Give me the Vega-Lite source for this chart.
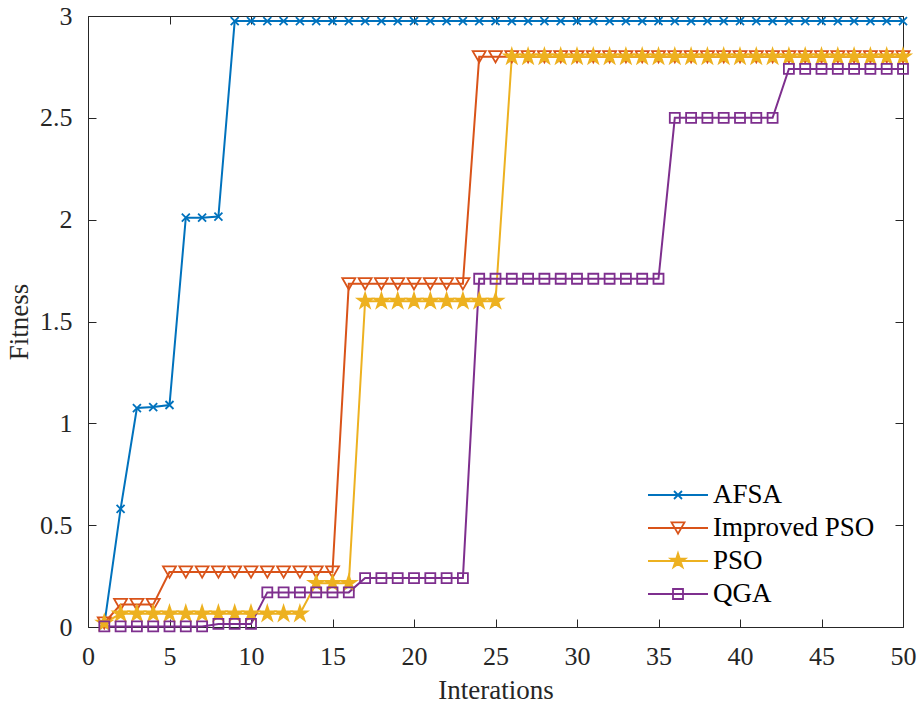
{
  "$schema": "https://vega.github.io/schema/vega-lite/v6.json",
  "width": 815,
  "height": 611,
  "autosize": "none",
  "padding": {"left": 88, "top": 16, "right": 15, "bottom": 79},
  "background": "white",
  "config": {
    "view": {"stroke": null},
    "axis": {
      "grid": false,
      "domainColor": "#262626",
      "domainWidth": 1,
      "tickColor": "#262626",
      "tickWidth": 1,
      "tickSize": -8,
      "labelFont": "Liberation Serif",
      "labelFontSize": 26,
      "labelColor": "#262626",
      "titleFont": "Liberation Serif",
      "titleFontSize": 27,
      "titleFontWeight": "normal",
      "titleColor": "#262626"
    },
    "legend": {
      "labelFont": "Liberation Serif",
      "labelFontSize": 27,
      "labelColor": "#000000",
      "labelLimit": 400,
      "padding": 0,
      "rowPadding": 5
    }
  },
  "data": {
    "values": [
      {"series": "AFSA", "iter": 1, "fitness": 0.01}, {"series": "AFSA", "iter": 2, "fitness": 0.58}, {"series": "AFSA", "iter": 3, "fitness": 1.075}, {"series": "AFSA", "iter": 4, "fitness": 1.08}, {"series": "AFSA", "iter": 5, "fitness": 1.09},
      {"series": "AFSA", "iter": 6, "fitness": 2.01}, {"series": "AFSA", "iter": 7, "fitness": 2.01}, {"series": "AFSA", "iter": 8, "fitness": 2.015}, {"series": "AFSA", "iter": 9, "fitness": 2.975}, {"series": "AFSA", "iter": 10, "fitness": 2.975},
      {"series": "AFSA", "iter": 11, "fitness": 2.975}, {"series": "AFSA", "iter": 12, "fitness": 2.975}, {"series": "AFSA", "iter": 13, "fitness": 2.975}, {"series": "AFSA", "iter": 14, "fitness": 2.975}, {"series": "AFSA", "iter": 15, "fitness": 2.975},
      {"series": "AFSA", "iter": 16, "fitness": 2.975}, {"series": "AFSA", "iter": 17, "fitness": 2.975}, {"series": "AFSA", "iter": 18, "fitness": 2.975}, {"series": "AFSA", "iter": 19, "fitness": 2.975}, {"series": "AFSA", "iter": 20, "fitness": 2.975},
      {"series": "AFSA", "iter": 21, "fitness": 2.975}, {"series": "AFSA", "iter": 22, "fitness": 2.975}, {"series": "AFSA", "iter": 23, "fitness": 2.975}, {"series": "AFSA", "iter": 24, "fitness": 2.975}, {"series": "AFSA", "iter": 25, "fitness": 2.975},
      {"series": "AFSA", "iter": 26, "fitness": 2.975}, {"series": "AFSA", "iter": 27, "fitness": 2.975}, {"series": "AFSA", "iter": 28, "fitness": 2.975}, {"series": "AFSA", "iter": 29, "fitness": 2.975}, {"series": "AFSA", "iter": 30, "fitness": 2.975},
      {"series": "AFSA", "iter": 31, "fitness": 2.975}, {"series": "AFSA", "iter": 32, "fitness": 2.975}, {"series": "AFSA", "iter": 33, "fitness": 2.975}, {"series": "AFSA", "iter": 34, "fitness": 2.975}, {"series": "AFSA", "iter": 35, "fitness": 2.975},
      {"series": "AFSA", "iter": 36, "fitness": 2.975}, {"series": "AFSA", "iter": 37, "fitness": 2.975}, {"series": "AFSA", "iter": 38, "fitness": 2.975}, {"series": "AFSA", "iter": 39, "fitness": 2.975}, {"series": "AFSA", "iter": 40, "fitness": 2.975},
      {"series": "AFSA", "iter": 41, "fitness": 2.975}, {"series": "AFSA", "iter": 42, "fitness": 2.975}, {"series": "AFSA", "iter": 43, "fitness": 2.975}, {"series": "AFSA", "iter": 44, "fitness": 2.975}, {"series": "AFSA", "iter": 45, "fitness": 2.975},
      {"series": "AFSA", "iter": 46, "fitness": 2.975}, {"series": "AFSA", "iter": 47, "fitness": 2.975}, {"series": "AFSA", "iter": 48, "fitness": 2.975}, {"series": "AFSA", "iter": 49, "fitness": 2.975}, {"series": "AFSA", "iter": 50, "fitness": 2.975},
      {"series": "Improved PSO", "iter": 1, "fitness": 0.02}, {"series": "Improved PSO", "iter": 2, "fitness": 0.11}, {"series": "Improved PSO", "iter": 3, "fitness": 0.11}, {"series": "Improved PSO", "iter": 4, "fitness": 0.11}, {"series": "Improved PSO", "iter": 5, "fitness": 0.27},
      {"series": "Improved PSO", "iter": 6, "fitness": 0.27}, {"series": "Improved PSO", "iter": 7, "fitness": 0.27}, {"series": "Improved PSO", "iter": 8, "fitness": 0.27}, {"series": "Improved PSO", "iter": 9, "fitness": 0.27}, {"series": "Improved PSO", "iter": 10, "fitness": 0.27},
      {"series": "Improved PSO", "iter": 11, "fitness": 0.27}, {"series": "Improved PSO", "iter": 12, "fitness": 0.27}, {"series": "Improved PSO", "iter": 13, "fitness": 0.27}, {"series": "Improved PSO", "iter": 14, "fitness": 0.27}, {"series": "Improved PSO", "iter": 15, "fitness": 0.27},
      {"series": "Improved PSO", "iter": 16, "fitness": 1.685}, {"series": "Improved PSO", "iter": 17, "fitness": 1.685}, {"series": "Improved PSO", "iter": 18, "fitness": 1.685}, {"series": "Improved PSO", "iter": 19, "fitness": 1.685}, {"series": "Improved PSO", "iter": 20, "fitness": 1.685},
      {"series": "Improved PSO", "iter": 21, "fitness": 1.685}, {"series": "Improved PSO", "iter": 22, "fitness": 1.685}, {"series": "Improved PSO", "iter": 23, "fitness": 1.685}, {"series": "Improved PSO", "iter": 24, "fitness": 2.8}, {"series": "Improved PSO", "iter": 25, "fitness": 2.8},
      {"series": "Improved PSO", "iter": 26, "fitness": 2.8}, {"series": "Improved PSO", "iter": 27, "fitness": 2.8}, {"series": "Improved PSO", "iter": 28, "fitness": 2.8}, {"series": "Improved PSO", "iter": 29, "fitness": 2.8}, {"series": "Improved PSO", "iter": 30, "fitness": 2.8},
      {"series": "Improved PSO", "iter": 31, "fitness": 2.8}, {"series": "Improved PSO", "iter": 32, "fitness": 2.8}, {"series": "Improved PSO", "iter": 33, "fitness": 2.8}, {"series": "Improved PSO", "iter": 34, "fitness": 2.8}, {"series": "Improved PSO", "iter": 35, "fitness": 2.8},
      {"series": "Improved PSO", "iter": 36, "fitness": 2.8}, {"series": "Improved PSO", "iter": 37, "fitness": 2.8}, {"series": "Improved PSO", "iter": 38, "fitness": 2.8}, {"series": "Improved PSO", "iter": 39, "fitness": 2.8}, {"series": "Improved PSO", "iter": 40, "fitness": 2.8},
      {"series": "Improved PSO", "iter": 41, "fitness": 2.8}, {"series": "Improved PSO", "iter": 42, "fitness": 2.8}, {"series": "Improved PSO", "iter": 43, "fitness": 2.8}, {"series": "Improved PSO", "iter": 44, "fitness": 2.8}, {"series": "Improved PSO", "iter": 45, "fitness": 2.8},
      {"series": "Improved PSO", "iter": 46, "fitness": 2.8}, {"series": "Improved PSO", "iter": 47, "fitness": 2.8}, {"series": "Improved PSO", "iter": 48, "fitness": 2.8}, {"series": "Improved PSO", "iter": 49, "fitness": 2.8}, {"series": "Improved PSO", "iter": 50, "fitness": 2.8},
      {"series": "PSO", "iter": 1, "fitness": 0.02}, {"series": "PSO", "iter": 2, "fitness": 0.065}, {"series": "PSO", "iter": 3, "fitness": 0.065}, {"series": "PSO", "iter": 4, "fitness": 0.065}, {"series": "PSO", "iter": 5, "fitness": 0.065},
      {"series": "PSO", "iter": 6, "fitness": 0.065}, {"series": "PSO", "iter": 7, "fitness": 0.065}, {"series": "PSO", "iter": 8, "fitness": 0.065}, {"series": "PSO", "iter": 9, "fitness": 0.065}, {"series": "PSO", "iter": 10, "fitness": 0.065},
      {"series": "PSO", "iter": 11, "fitness": 0.065}, {"series": "PSO", "iter": 12, "fitness": 0.065}, {"series": "PSO", "iter": 13, "fitness": 0.065}, {"series": "PSO", "iter": 14, "fitness": 0.215}, {"series": "PSO", "iter": 15, "fitness": 0.215},
      {"series": "PSO", "iter": 16, "fitness": 0.215}, {"series": "PSO", "iter": 17, "fitness": 1.6}, {"series": "PSO", "iter": 18, "fitness": 1.6}, {"series": "PSO", "iter": 19, "fitness": 1.6}, {"series": "PSO", "iter": 20, "fitness": 1.6},
      {"series": "PSO", "iter": 21, "fitness": 1.6}, {"series": "PSO", "iter": 22, "fitness": 1.6}, {"series": "PSO", "iter": 23, "fitness": 1.6}, {"series": "PSO", "iter": 24, "fitness": 1.6}, {"series": "PSO", "iter": 25, "fitness": 1.6},
      {"series": "PSO", "iter": 26, "fitness": 2.8}, {"series": "PSO", "iter": 27, "fitness": 2.8}, {"series": "PSO", "iter": 28, "fitness": 2.8}, {"series": "PSO", "iter": 29, "fitness": 2.8}, {"series": "PSO", "iter": 30, "fitness": 2.8},
      {"series": "PSO", "iter": 31, "fitness": 2.8}, {"series": "PSO", "iter": 32, "fitness": 2.8}, {"series": "PSO", "iter": 33, "fitness": 2.8}, {"series": "PSO", "iter": 34, "fitness": 2.8}, {"series": "PSO", "iter": 35, "fitness": 2.8},
      {"series": "PSO", "iter": 36, "fitness": 2.8}, {"series": "PSO", "iter": 37, "fitness": 2.8}, {"series": "PSO", "iter": 38, "fitness": 2.8}, {"series": "PSO", "iter": 39, "fitness": 2.8}, {"series": "PSO", "iter": 40, "fitness": 2.8},
      {"series": "PSO", "iter": 41, "fitness": 2.8}, {"series": "PSO", "iter": 42, "fitness": 2.8}, {"series": "PSO", "iter": 43, "fitness": 2.8}, {"series": "PSO", "iter": 44, "fitness": 2.8}, {"series": "PSO", "iter": 45, "fitness": 2.8},
      {"series": "PSO", "iter": 46, "fitness": 2.8}, {"series": "PSO", "iter": 47, "fitness": 2.8}, {"series": "PSO", "iter": 48, "fitness": 2.8}, {"series": "PSO", "iter": 49, "fitness": 2.8}, {"series": "PSO", "iter": 50, "fitness": 2.8},
      {"series": "QGA", "iter": 1, "fitness": 0.003}, {"series": "QGA", "iter": 2, "fitness": 0.003}, {"series": "QGA", "iter": 3, "fitness": 0.003}, {"series": "QGA", "iter": 4, "fitness": 0.003}, {"series": "QGA", "iter": 5, "fitness": 0.003},
      {"series": "QGA", "iter": 6, "fitness": 0.003}, {"series": "QGA", "iter": 7, "fitness": 0.003}, {"series": "QGA", "iter": 8, "fitness": 0.015}, {"series": "QGA", "iter": 9, "fitness": 0.015}, {"series": "QGA", "iter": 10, "fitness": 0.015},
      {"series": "QGA", "iter": 11, "fitness": 0.17}, {"series": "QGA", "iter": 12, "fitness": 0.17}, {"series": "QGA", "iter": 13, "fitness": 0.17}, {"series": "QGA", "iter": 14, "fitness": 0.17}, {"series": "QGA", "iter": 15, "fitness": 0.17},
      {"series": "QGA", "iter": 16, "fitness": 0.17}, {"series": "QGA", "iter": 17, "fitness": 0.24}, {"series": "QGA", "iter": 18, "fitness": 0.24}, {"series": "QGA", "iter": 19, "fitness": 0.24}, {"series": "QGA", "iter": 20, "fitness": 0.24},
      {"series": "QGA", "iter": 21, "fitness": 0.24}, {"series": "QGA", "iter": 22, "fitness": 0.24}, {"series": "QGA", "iter": 23, "fitness": 0.24}, {"series": "QGA", "iter": 24, "fitness": 1.71}, {"series": "QGA", "iter": 25, "fitness": 1.71},
      {"series": "QGA", "iter": 26, "fitness": 1.71}, {"series": "QGA", "iter": 27, "fitness": 1.71}, {"series": "QGA", "iter": 28, "fitness": 1.71}, {"series": "QGA", "iter": 29, "fitness": 1.71}, {"series": "QGA", "iter": 30, "fitness": 1.71},
      {"series": "QGA", "iter": 31, "fitness": 1.71}, {"series": "QGA", "iter": 32, "fitness": 1.71}, {"series": "QGA", "iter": 33, "fitness": 1.71}, {"series": "QGA", "iter": 34, "fitness": 1.71}, {"series": "QGA", "iter": 35, "fitness": 1.71},
      {"series": "QGA", "iter": 36, "fitness": 2.5}, {"series": "QGA", "iter": 37, "fitness": 2.5}, {"series": "QGA", "iter": 38, "fitness": 2.5}, {"series": "QGA", "iter": 39, "fitness": 2.5}, {"series": "QGA", "iter": 40, "fitness": 2.5},
      {"series": "QGA", "iter": 41, "fitness": 2.5}, {"series": "QGA", "iter": 42, "fitness": 2.5}, {"series": "QGA", "iter": 43, "fitness": 2.74}, {"series": "QGA", "iter": 44, "fitness": 2.74}, {"series": "QGA", "iter": 45, "fitness": 2.74},
      {"series": "QGA", "iter": 46, "fitness": 2.74}, {"series": "QGA", "iter": 47, "fitness": 2.74}, {"series": "QGA", "iter": 48, "fitness": 2.74}, {"series": "QGA", "iter": 49, "fitness": 2.74}, {"series": "QGA", "iter": 50, "fitness": 2.74}
    ]
  },
  "resolve": {"axis": {"x": "independent", "y": "independent"}},
  "layer": [
    {
      "mark": {"type": "line", "strokeWidth": 2},
      "encoding": {
        "x": {
          "field": "iter", "type": "quantitative",
          "scale": {"domain": [0, 50], "nice": false, "zero": false},
          "axis": {"orient": "bottom", "values": [0, 5, 10, 15, 20, 25, 30, 35, 40, 45, 50], "labelPadding": 24, "title": "Interations", "titlePadding": 8, "labelFlush": false}
        },
        "y": {
          "field": "fitness", "type": "quantitative",
          "scale": {"domain": [0, 3], "nice": false, "zero": false},
          "axis": {"orient": "left", "values": [0, 0.5, 1, 1.5, 2, 2.5, 3], "format": "~g", "labelPadding": 24, "title": "Fitness", "titlePadding": 6, "labelFlush": false}
        },
        "color": {
          "field": "series", "type": "nominal",
          "scale": {"domain": ["AFSA", "Improved PSO", "PSO", "QGA"], "range": ["#0072BD", "#D95319", "#EDB120", "#7E2F8E"]},
          "legend": {"orient": "none", "legendX": 576.5, "legendY": 465.5, "title": null, "symbolType": "M-3,0H3", "symbolSize": 400, "symbolStrokeWidth": 2, "labelOffset": 21.5}
        }
      }
    },
    {
      "mark": {"type": "point", "strokeWidth": 1.8, "opacity": 1},
      "encoding": {
        "x": {
          "field": "iter", "type": "quantitative",
          "axis": {"orient": "top", "values": [0, 5, 10, 15, 20, 25, 30, 35, 40, 45, 50], "labels": false, "title": null}
        },
        "y": {
          "field": "fitness", "type": "quantitative",
          "axis": {"orient": "right", "values": [0, 0.5, 1, 1.5, 2, 2.5, 3], "labels": false, "title": null}
        },
        "stroke": {
          "field": "series", "type": "nominal",
          "scale": {"range": ["#0072BD", "#D95319", "#EDB120", "#7E2F8E"]},
          "legend": {"orient": "none", "legendX": 576.5, "legendY": 465.5, "title": null, "labelExpr": "' '", "symbolStrokeWidth": 1.8}
        },
        "fill": {
          "field": "series", "type": "nominal",
          "scale": {"range": ["transparent", "transparent", "#EDB120", "transparent"]},
          "legend": {"orient": "none", "legendX": 576.5, "legendY": 465.5, "title": null, "labelExpr": "' '"}
        },
        "shape": {
          "field": "series", "type": "nominal",
          "scale": {"range": ["M-1,-1L1,1M-1,1L1,-1", "triangle-down", "M0,-1L0.225,-0.309L0.951,-0.309L0.363,0.118L0.588,0.809L0,0.382L-0.588,0.809L-0.363,0.118L-0.951,-0.309L-0.225,-0.309Z", "square"]},
          "legend": {"orient": "none", "legendX": 576.5, "legendY": 465.5, "title": null, "labelExpr": "' '"}
        },
        "size": {
          "field": "series", "type": "nominal",
          "scale": {"type": "ordinal", "range": [64, 169, 240, 100]},
          "legend": {"orient": "none", "legendX": 576.5, "legendY": 465.5, "title": null, "labelExpr": "' '"}
        }
      }
    }
  ]
}
